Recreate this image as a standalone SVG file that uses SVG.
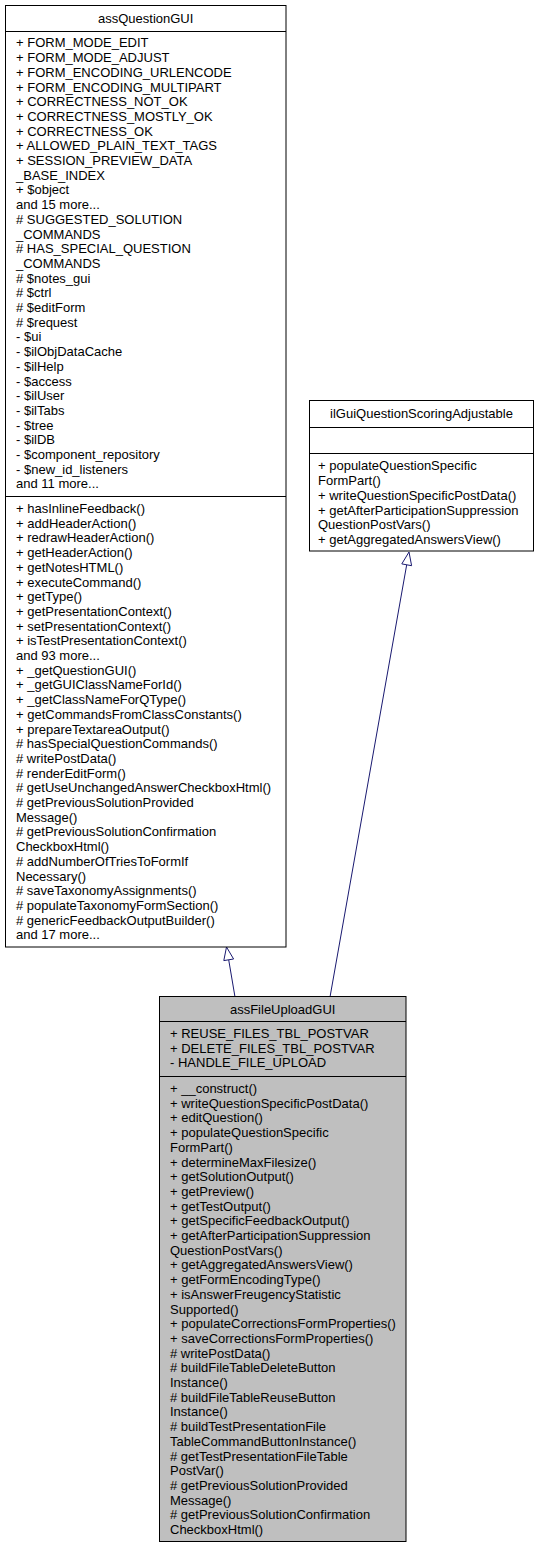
<svg xmlns="http://www.w3.org/2000/svg" width="539" height="1548" viewBox="0 0 539 1548">
<style>
text{font-family:"Liberation Sans",Arial,Helvetica,sans-serif;font-size:13px;fill:#000}
.t{text-anchor:middle}
.box{fill:#fff;stroke:#000;stroke-width:1}
.gray{fill:#bfbfbf;stroke:#000;stroke-width:1}
.sep{stroke:#000;stroke-width:1}
.edge{stroke:#191970;stroke-width:1;fill:none}
.head{fill:#fff;stroke:#191970;stroke-width:1}
</style>
<rect width="539" height="1548" fill="#fff"/>
<g id="connectors">
<path class="edge" d="M235,997 L228.7,959.8"/>
<polygon class="head" points="226.5,947 233.6,959 223.8,960.6"/>
<path class="edge" d="M330,997 L406.7,564.8"/>
<polygon class="head" points="409,552 411.6,565.7 401.8,563.9"/>
</g>
<g id="assQuestionGUI">
<rect class="box" x="5.5" y="5.5" width="280.5" height="941.5"/>
<line class="sep" x1="5.5" y1="31.5" x2="286" y2="31.5"/>
<line class="sep" x1="5.5" y1="496.5" x2="286" y2="496.5"/>
<text class="t" x="145.7" y="22.7">assQuestionGUI</text>
<text x="16" y="47.4">+ FORM_MODE_EDIT</text>
<text x="16" y="62.1">+ FORM_MODE_ADJUST</text>
<text x="16" y="76.8">+ FORM_ENCODING_URLENCODE</text>
<text x="16" y="91.5">+ FORM_ENCODING_MULTIPART</text>
<text x="16" y="106.2">+ CORRECTNESS_NOT_OK</text>
<text x="16" y="120.9">+ CORRECTNESS_MOSTLY_OK</text>
<text x="16" y="135.6">+ CORRECTNESS_OK</text>
<text x="16" y="150.3">+ ALLOWED_PLAIN_TEXT_TAGS</text>
<text x="16" y="165">+ SESSION_PREVIEW_DATA</text>
<text x="16" y="179.7">_BASE_INDEX</text>
<text x="16" y="194.4">+ $object</text>
<text x="16" y="209.1">and 15 more...</text>
<text x="16" y="223.8"># SUGGESTED_SOLUTION</text>
<text x="16" y="238.5">_COMMANDS</text>
<text x="16" y="253.2"># HAS_SPECIAL_QUESTION</text>
<text x="16" y="267.9">_COMMANDS</text>
<text x="16" y="282.6"># $notes_gui</text>
<text x="16" y="297.3"># $ctrl</text>
<text x="16" y="312"># $editForm</text>
<text x="16" y="326.7"># $request</text>
<text x="16" y="341.4">- $ui</text>
<text x="16" y="356.1">- $ilObjDataCache</text>
<text x="16" y="370.8">- $ilHelp</text>
<text x="16" y="385.5">- $access</text>
<text x="16" y="400.2">- $ilUser</text>
<text x="16" y="414.9">- $ilTabs</text>
<text x="16" y="429.6">- $tree</text>
<text x="16" y="444.3">- $ilDB</text>
<text x="16" y="459">- $component_repository</text>
<text x="16" y="473.7">- $new_id_listeners</text>
<text x="16" y="488.4">and 11 more...</text>
<text x="16" y="513">+ hasInlineFeedback()</text>
<text x="16" y="527.7">+ addHeaderAction()</text>
<text x="16" y="542.4">+ redrawHeaderAction()</text>
<text x="16" y="557.1">+ getHeaderAction()</text>
<text x="16" y="571.8">+ getNotesHTML()</text>
<text x="16" y="586.5">+ executeCommand()</text>
<text x="16" y="601.2">+ getType()</text>
<text x="16" y="615.9">+ getPresentationContext()</text>
<text x="16" y="630.6">+ setPresentationContext()</text>
<text x="16" y="645.3">+ isTestPresentationContext()</text>
<text x="16" y="660">and 93 more...</text>
<text x="16" y="674.7">+ _getQuestionGUI()</text>
<text x="16" y="689.4">+ _getGUIClassNameForId()</text>
<text x="16" y="704.1">+ _getClassNameForQType()</text>
<text x="16" y="718.8">+ getCommandsFromClassConstants()</text>
<text x="16" y="733.5">+ prepareTextareaOutput()</text>
<text x="16" y="748.2"># hasSpecialQuestionCommands()</text>
<text x="16" y="762.9"># writePostData()</text>
<text x="16" y="777.6"># renderEditForm()</text>
<text x="16" y="792.3"># getUseUnchangedAnswerCheckboxHtml()</text>
<text x="16" y="807"># getPreviousSolutionProvided</text>
<text x="16" y="821.7">Message()</text>
<text x="16" y="836.4"># getPreviousSolutionConfirmation</text>
<text x="16" y="851.1">CheckboxHtml()</text>
<text x="16" y="865.8"># addNumberOfTriesToFormIf</text>
<text x="16" y="880.5">Necessary()</text>
<text x="16" y="895.2"># saveTaxonomyAssignments()</text>
<text x="16" y="909.9"># populateTaxonomyFormSection()</text>
<text x="16" y="924.6"># genericFeedbackOutputBuilder()</text>
<text x="16" y="939.3">and 17 more...</text>
</g>
<g id="ilGuiQuestionScoringAdjustable">
<rect class="box" x="309.5" y="400.5" width="224" height="150.5"/>
<line class="sep" x1="309.5" y1="427.5" x2="533.5" y2="427.5"/>
<line class="sep" x1="309.5" y1="453.5" x2="533.5" y2="453.5"/>
<text class="t" x="421.5" y="418">ilGuiQuestionScoringAdjustable</text>
<text x="318" y="470.4">+ populateQuestionSpecific</text>
<text x="318" y="485.1">FormPart()</text>
<text x="318" y="499.8">+ writeQuestionSpecificPostData()</text>
<text x="318" y="514.5">+ getAfterParticipationSuppression</text>
<text x="318" y="529.2">QuestionPostVars()</text>
<text x="318" y="543.9">+ getAggregatedAnswersView()</text>
</g>
<g id="assFileUploadGUI">
<rect class="gray" x="159.5" y="996.5" width="246.5" height="545"/>
<line class="sep" x1="159.5" y1="1021.5" x2="406" y2="1021.5"/>
<line class="sep" x1="159.5" y1="1076.5" x2="406" y2="1076.5"/>
<text class="t" x="282.7" y="1014">assFileUploadGUI</text>
<text x="170" y="1038">+ REUSE_FILES_TBL_POSTVAR</text>
<text x="170" y="1052.7">+ DELETE_FILES_TBL_POSTVAR</text>
<text x="170" y="1067.4">- HANDLE_FILE_UPLOAD</text>
<text x="170" y="1093">+ __construct()</text>
<text x="170" y="1107.7">+ writeQuestionSpecificPostData()</text>
<text x="170" y="1122.4">+ editQuestion()</text>
<text x="170" y="1137.1">+ populateQuestionSpecific</text>
<text x="170" y="1151.8">FormPart()</text>
<text x="170" y="1166.5">+ determineMaxFilesize()</text>
<text x="170" y="1181.2">+ getSolutionOutput()</text>
<text x="170" y="1195.9">+ getPreview()</text>
<text x="170" y="1210.6">+ getTestOutput()</text>
<text x="170" y="1225.3">+ getSpecificFeedbackOutput()</text>
<text x="170" y="1240">+ getAfterParticipationSuppression</text>
<text x="170" y="1254.7">QuestionPostVars()</text>
<text x="170" y="1269.4">+ getAggregatedAnswersView()</text>
<text x="170" y="1284.1">+ getFormEncodingType()</text>
<text x="170" y="1298.8">+ isAnswerFreugencyStatistic</text>
<text x="170" y="1313.5">Supported()</text>
<text x="170" y="1328.2">+ populateCorrectionsFormProperties()</text>
<text x="170" y="1342.9">+ saveCorrectionsFormProperties()</text>
<text x="170" y="1357.6"># writePostData()</text>
<text x="170" y="1372.3"># buildFileTableDeleteButton</text>
<text x="170" y="1387">Instance()</text>
<text x="170" y="1401.7"># buildFileTableReuseButton</text>
<text x="170" y="1416.4">Instance()</text>
<text x="170" y="1431.1"># buildTestPresentationFile</text>
<text x="170" y="1445.8">TableCommandButtonInstance()</text>
<text x="170" y="1460.5"># getTestPresentationFileTable</text>
<text x="170" y="1475.2">PostVar()</text>
<text x="170" y="1489.9"># getPreviousSolutionProvided</text>
<text x="170" y="1504.6">Message()</text>
<text x="170" y="1519.3"># getPreviousSolutionConfirmation</text>
<text x="170" y="1534">CheckboxHtml()</text>
</g>
</svg>
